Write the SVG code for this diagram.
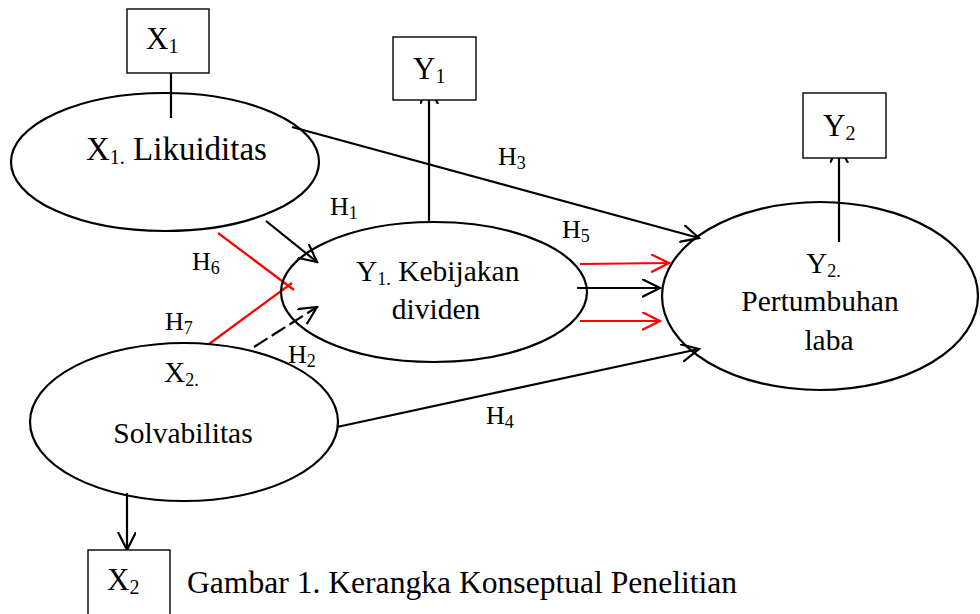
<svg xmlns="http://www.w3.org/2000/svg" width="980" height="614" viewBox="0 0 980 614">
<defs>
<style>
.t{font-family:"Liberation Serif","Times New Roman",serif;font-size:29.5px;fill:#000}
.h{font-family:"Liberation Serif","Times New Roman",serif;font-size:26px;fill:#000}
.s{font-size:18px}
.e{fill:none;stroke:#000;stroke-width:2.2}
.b{fill:#fff;stroke:#000;stroke-width:1.4}
.k{fill:none;stroke:#000;stroke-width:2.2}
.r{fill:none;stroke:#f00;stroke-width:2.2}
</style>
<marker id="ak" markerUnits="userSpaceOnUse" markerWidth="20" markerHeight="20" refX="18" refY="9" orient="auto" viewBox="0 0 20 20">
<path d="M0,0 L18,9 L0,18" fill="none" stroke="#000" stroke-width="2.2"/>
</marker>
<marker id="ar" markerUnits="userSpaceOnUse" markerWidth="20" markerHeight="20" refX="18" refY="9" orient="auto" viewBox="0 0 20 20">
<path d="M0,0 L18,9 L0,18" fill="none" stroke="#f00" stroke-width="2.2"/>
</marker>
</defs>
<rect width="980" height="614" fill="#fff"/>

<g id="connectors">
<line class="k" x1="171" y1="73" x2="171" y2="118"/>
<line class="k" x1="429" y1="222" x2="429" y2="86" marker-end="url(#ak)"/>
<line class="k" x1="839" y1="242" x2="839" y2="145" marker-end="url(#ak)"/>
<line class="k" x1="127" y1="493" x2="127" y2="550" marker-end="url(#ak)"/>
<line class="k" x1="292" y1="127" x2="699" y2="238" marker-end="url(#ak)"/>
<line class="k" x1="266" y1="221" x2="317" y2="262" marker-end="url(#ak)"/>
<line class="k" x1="254" y1="347" x2="317" y2="307" stroke-dasharray="16,5" marker-end="url(#ak)"/>
<line class="r" x1="218" y1="233" x2="294" y2="290"/>
<line class="r" x1="209" y1="344" x2="292" y2="283"/>
<line class="r" x1="580" y1="264" x2="669" y2="263" marker-end="url(#ar)"/>
<line class="k" x1="577" y1="288" x2="660" y2="288" marker-end="url(#ak)"/>
<line class="r" x1="580" y1="321" x2="660" y2="321" marker-end="url(#ar)"/>
<line class="k" x1="337" y1="427" x2="699" y2="349" marker-end="url(#ak)"/>
</g>

<g id="likuiditas">
<ellipse class="e" cx="165" cy="162" rx="154" ry="69"/>
<text class="t" x="86" y="160" style="font-size:33px">X<tspan class="s" dy="4" style="font-size:20px">1.</tspan><tspan dy="-4"> Likuiditas</tspan></text>
</g>
<g id="kebijakan">
<ellipse class="e" cx="434" cy="292" rx="153" ry="70"/>
<text class="t" x="356" y="281">Y<tspan class="s" dy="4">1.</tspan><tspan dy="-4"> Kebijakan</tspan></text>
<text class="t" x="436" y="319" text-anchor="middle">dividen</text>
</g>
<g id="pertumbuhan">
<ellipse class="e" cx="820" cy="296" rx="158" ry="94"/>
<text class="t" x="806" y="273">Y<tspan class="s" dy="4">2.</tspan></text>
<text class="t" x="820" y="311" text-anchor="middle">Pertumbuhan</text>
<text class="t" x="829" y="350" text-anchor="middle">laba</text>
</g>
<g id="solvabilitas">
<ellipse class="e" cx="184" cy="422" rx="154" ry="79"/>
<text class="t" x="164" y="382">X<tspan class="s" dy="4">2.</tspan></text>
<text class="t" x="183" y="443" text-anchor="middle">Solvabilitas</text>
</g>

<g id="boxX1">
<rect class="b" x="127" y="9" width="82" height="64"/>
<text class="t" x="146" y="49" style="font-size:31px">X<tspan class="s" dy="4" style="font-size:20px">1</tspan></text>
</g>
<g id="boxY1">
<rect class="b" x="393" y="37" width="83" height="63"/>
<text class="t" x="413" y="79" style="font-size:31px">Y<tspan class="s" dy="4" style="font-size:20px">1</tspan></text>
</g>
<g id="boxY2">
<rect class="b" x="803" y="93" width="83" height="65"/>
<text class="t" x="823" y="136" style="font-size:31px">Y<tspan class="s" dy="4" style="font-size:20px">2</tspan></text>
</g>
<g id="boxX2">
<rect class="b" x="88" y="550" width="82" height="70"/>
<text class="t" x="107" y="590" style="font-size:31px">X<tspan class="s" dy="4" style="font-size:20px">2</tspan></text>
</g>

<g id="labels">
<text class="h" x="330" y="215">H<tspan class="s" dy="4">1</tspan></text>
<text class="h" x="288" y="363">H<tspan class="s" dy="4">2</tspan></text>
<text class="h" x="498" y="165">H<tspan class="s" dy="4">3</tspan></text>
<text class="h" x="486" y="424">H<tspan class="s" dy="4">4</tspan></text>
<text class="h" x="562" y="238">H<tspan class="s" dy="4">5</tspan></text>
<text class="h" x="192" y="270">H<tspan class="s" dy="4">6</tspan></text>
<text class="h" x="165" y="330">H<tspan class="s" dy="4">7</tspan></text>
</g>
<text class="t" x="187" y="593" style="font-size:31.6px">Gambar 1. Kerangka Konseptual Penelitian</text>
</svg>
